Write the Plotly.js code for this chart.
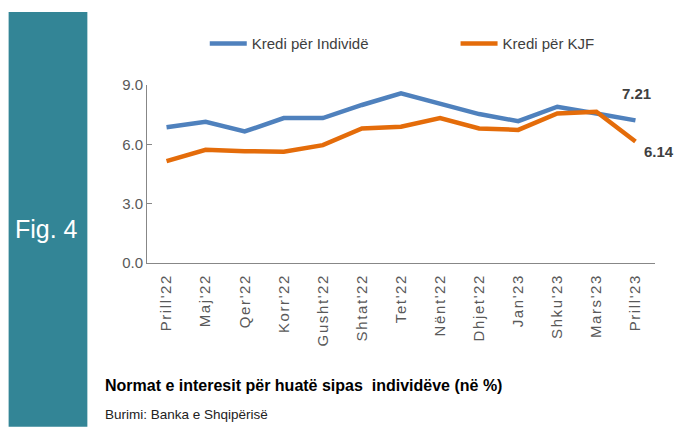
<!DOCTYPE html>
<html>
<head>
<meta charset="utf-8">
<script src="https://cdn.plot.ly/plotly-3.0.1.min.js"></script>
<style>
  html, body { margin: 0; padding: 0; background: #ffffff; }
  #chart { width: 682px; height: 427px; }
  #chart .xtick text { letter-spacing: 1.6px; }
</style>
</head>
<body>
<div id="chart"></div>
<script>
const categories = ["Prill'22", "Maj'22", "Qer'22", "Korr'22", "Gusht'22", "Shtat'22", "Tet'22", "Nënt'22", "Dhjet'22", "Jan'23", "Shku'23", "Mars'23", "Prill'23"];
const krediIndivide = [6.86, 7.14, 6.65, 7.33, 7.33, 7.99, 8.58, 8.07, 7.53, 7.17, 7.90, 7.56, 7.21];
const krediKJF = [5.15, 5.72, 5.65, 5.63, 5.96, 6.80, 6.89, 7.33, 6.80, 6.73, 7.56, 7.65, 6.14];
const seriesNames = ["Kredi për Individë", "Kredi për KJF"];
const yTicks = [0, 3, 6, 9];

const sans = "'Liberation Sans', Arial, sans-serif";
const lastIdx = categories.length - 1;

const traces = [
  { x: categories, y: krediIndivide, name: seriesNames[0], type: 'scatter', mode: 'lines',
    line: { color: '#4F81BD', width: 4.5 }, hoverinfo: 'skip', legend: 'legend' },
  { x: categories, y: krediKJF, name: seriesNames[1], type: 'scatter', mode: 'lines',
    line: { color: '#E46C0A', width: 4.5 }, hoverinfo: 'skip', legend: 'legend2' }
];

const legendCommon = { orientation: 'h', xanchor: 'left', y: 1.232, yanchor: 'middle',
  font: { family: sans, size: 15, color: '#404040' }, itemwidth: 37, bgcolor: 'rgba(0,0,0,0)', borderwidth: 0 };

const layout = {
  width: 682, height: 427,
  margin: { l: 147.3, r: 27, t: 84.5, b: 163.5 },
  paper_bgcolor: '#ffffff', plot_bgcolor: '#ffffff',
  showlegend: true,
  legend: Object.assign({}, legendCommon, { x: 0.1137 }),
  legend2: Object.assign({}, legendCommon, { x: 0.6074 }),
  xaxis: { type: 'category', showgrid: false, zeroline: false, showline: true, linecolor: '#878787', linewidth: 1,
    ticks: '', tickangle: -90, ticklabelstandoff: 4, tickfont: { family: sans, size: 15, color: '#595959' },
    range: [-0.5, categories.length - 0.5], fixedrange: true },
  yaxis: { range: [0, 9], tickvals: yTicks, tickformat: '.1f', showgrid: false, zeroline: false,
    showline: true, linecolor: '#878787', linewidth: 1, ticks: 'inside', ticklen: 5, tickcolor: '#878787',
    tickfont: { family: sans, size: 15, color: '#595959' }, fixedrange: true },
  shapes: [
    { type: 'rect', xref: 'paper', yref: 'paper', x0: -0.2724, x1: -0.1174, y0: -0.92, y1: 1.4106,
      fillcolor: '#338596', line: { width: 0 }, layer: 'below' }
  ],
  annotations: [
    { xref: 'paper', yref: 'paper', x: -0.1976, xanchor: 'center', y: 0.19, yanchor: 'middle', text: 'Fig. 4', showarrow: false,
      font: { family: sans, size: 25, color: '#ffffff' } },
    { x: categories[lastIdx], y: krediIndivide[lastIdx], xref: 'x', yref: 'y', xanchor: 'center', yanchor: 'middle',
      text: '<b>' + krediIndivide[lastIdx].toFixed(2) + '</b>',
      showarrow: false, xshift: 1, yshift: 27, font: { family: sans, size: 15, color: '#404040' } },
    { x: categories[lastIdx], y: krediKJF[lastIdx], xref: 'x', yref: 'y', xanchor: 'center', yanchor: 'middle',
      text: '<b>' + krediKJF[lastIdx].toFixed(2) + '</b>',
      showarrow: false, xshift: 24, yshift: -10, font: { family: sans, size: 15, color: '#404040' } },
    { xref: 'paper', yref: 'paper', x: -0.0872, xanchor: 'left', y: -0.686, yanchor: 'middle',
      text: '<b>Normat e interesit për huatë sipas  individëve (në %)</b>', showarrow: false,
      font: { family: sans, size: 16, color: '#000000' } },
    { xref: 'paper', yref: 'paper', x: -0.0872, xanchor: 'left', y: -0.852, yanchor: 'middle',
      text: 'Burimi: Banka e Shqipërisë', showarrow: false,
      font: { family: sans, size: 13.5, color: '#222222' } }
  ]
};

Plotly.newPlot('chart', traces, layout, { displayModeBar: false, staticPlot: true });
</script>
</body>
</html>
